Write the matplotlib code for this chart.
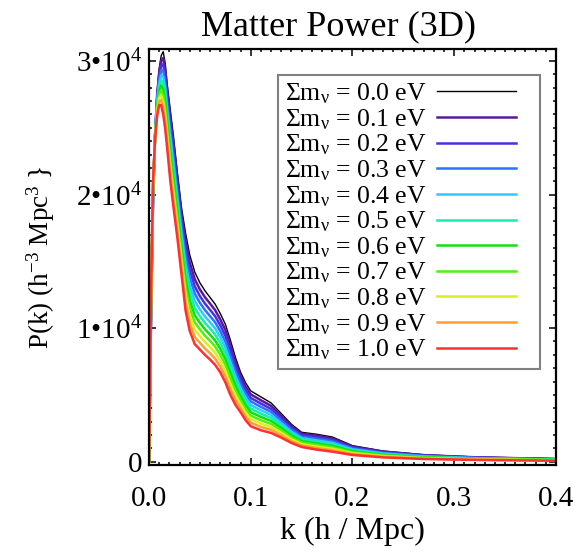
import matplotlib
matplotlib.use("Agg")
import matplotlib.pyplot as plt
from matplotlib.ticker import MultipleLocator, FixedLocator, FixedFormatter
from matplotlib.legend_handler import HandlerLine2D

plt.rcParams['font.family'] = ['Liberation Serif', 'DejaVu Serif']
plt.rcParams['mathtext.fontset'] = 'custom'
plt.rcParams['mathtext.rm'] = 'Liberation Serif'
plt.rcParams['mathtext.it'] = 'Liberation Serif:italic'
plt.rcParams['mathtext.bf'] = 'Liberation Serif:bold'

# wavenumber grid (h/Mpc)
k = [0.0, 0.001, 0.002, 0.004, 0.006, 0.008, 0.010, 0.012, 0.014, 0.016,
     0.018, 0.021, 0.024, 0.028, 0.032, 0.036, 0.040, 0.045, 0.050, 0.055,
     0.060, 0.065, 0.070, 0.075, 0.080, 0.085, 0.090, 0.095, 0.100, 0.110,
     0.120, 0.130, 0.140, 0.150, 0.165, 0.180, 0.200, 0.230, 0.270, 0.320,
     0.400]

# P(k), one list per neutrino mass
pk_00 = [0, 5000, 10500, 19500, 24500, 27600, 29400, 30400, 30700, 29800,
         28200, 26300, 24400, 21600, 19000, 17100, 15500, 14200, 13400, 12800,
         12300, 11800, 11100, 10300, 9100, 7800, 6700, 5900, 5300, 4850,
         4400, 3600, 2800, 2200, 2050, 1850, 1200, 800, 520, 350, 220]
pk_01 = [0, 5100, 10700, 19650, 24470, 27430, 29130, 30030, 30230, 29310,
         27720, 25770, 23870, 21110, 18500, 16520, 14930, 13660, 12900, 12320,
         11840, 11350, 10660, 9870, 8690, 7450, 6400, 5620, 5040, 4600,
         4180, 3420, 2660, 2090, 1940, 1740, 1130, 750, 490, 330, 200]
pk_02 = [0, 5200, 10900, 19800, 24440, 27260, 28860, 29660, 29760, 28820,
         27240, 25240, 23340, 20620, 18000, 15940, 14360, 13120, 12400, 11840,
         11370, 10890, 10220, 9430, 8280, 7090, 6100, 5340, 4770, 4350,
         3950, 3240, 2520, 1980, 1820, 1630, 1060, 700, 460, 310, 190]
pk_03 = [0, 5300, 11100, 19950, 24410, 27090, 28590, 29290, 29290, 28330,
         26760, 24710, 22810, 20130, 17500, 15360, 13790, 12580, 11900, 11360,
         10900, 10440, 9780, 9000, 7870, 6740, 5800, 5060, 4510, 4100,
         3730, 3060, 2380, 1870, 1710, 1520, 990, 660, 420, 280, 180]
pk_04 = [0, 5400, 11300, 20100, 24380, 26920, 28320, 28920, 28820, 27840,
         26280, 24180, 22280, 19640, 17000, 14780, 13220, 12040, 11400, 10880,
         10440, 9980, 9340, 8560, 7460, 6380, 5500, 4780, 4240, 3850,
         3500, 2880, 2240, 1760, 1590, 1410, 920, 610, 390, 260, 160]
pk_05 = [0, 5500, 11500, 20250, 24350, 26750, 28050, 28550, 28350, 27350,
         25800, 23650, 21750, 19150, 16500, 14200, 12650, 11500, 10900, 10400,
         9980, 9530, 8900, 8130, 7050, 6030, 5200, 4500, 3980, 3600,
         3280, 2700, 2100, 1650, 1480, 1300, 850, 560, 360, 240, 150]
pk_06 = [0, 5600, 11700, 20400, 24320, 26580, 27780, 28180, 27880, 26860,
         25320, 23120, 21220, 18660, 16000, 13620, 12080, 10960, 10400, 9920,
         9510, 9070, 8460, 7690, 6640, 5670, 4900, 4220, 3710, 3350,
         3050, 2520, 1960, 1540, 1360, 1190, 780, 510, 330, 220, 130]
pk_07 = [0, 5700, 11900, 20550, 24290, 26410, 27510, 27810, 27410, 26370,
         24840, 22590, 20690, 18170, 15500, 13040, 11510, 10420, 9900, 9440,
         9050, 8620, 8020, 7260, 6230, 5320, 4600, 3940, 3450, 3100,
         2830, 2340, 1820, 1430, 1250, 1080, 710, 460, 300, 200, 120]
pk_08 = [0, 5800, 12100, 20700, 24260, 26240, 27240, 27440, 26940, 25880,
         24360, 22060, 20160, 17680, 15000, 12460, 10940, 9880, 9400, 8960,
         8580, 8160, 7580, 6820, 5820, 4960, 4300, 3660, 3180, 2850,
         2600, 2160, 1680, 1320, 1130, 970, 640, 420, 260, 170, 100]
pk_09 = [0, 5900, 12300, 20850, 24230, 26070, 26970, 27070, 26470, 25390,
         23880, 21530, 19630, 17190, 14500, 11880, 10370, 9340, 8900, 8480,
         8120, 7710, 7140, 6390, 5410, 4610, 4000, 3380, 2920, 2600,
         2380, 1980, 1540, 1210, 1020, 860, 570, 370, 230, 150, 90]
pk_10 = [0, 6000, 12500, 21000, 24200, 25900, 26700, 26700, 26000, 24900,
         23400, 21000, 19100, 16700, 14000, 11300, 9800, 8800, 8400, 8000,
         7650, 7250, 6700, 5950, 5000, 4250, 3700, 3100, 2650, 2350,
         2150, 1800, 1400, 1100, 900, 750, 500, 320, 200, 130, 70]

masses = ['0.0', '0.1', '0.2', '0.3', '0.4', '0.5', '0.6', '0.7', '0.8', '0.9', '1.0']
spectra = [pk_00, pk_01, pk_02, pk_03, pk_04, pk_05, pk_06, pk_07, pk_08, pk_09, pk_10]
colors = ['black', '#5a1a9a', '#4a30e0', '#3070ff', '#30c8ff', '#10f0b0',
          '#10e010', '#50f010', '#d8f020', '#ffa030', '#ff3030']


class ShortLine(HandlerLine2D):
    # leave some empty room to the right of the legend line, like the IDL legend
    def create_artists(self, legend, orig_handle, xdescent, ydescent,
                       width, height, fontsize, trans):
        return super().create_artists(legend, orig_handle, xdescent, ydescent,
                                      width - 0.7 * fontsize, height, fontsize, trans)


fig = plt.figure(figsize=(5.79, 5.52), dpi=100)
ax = fig.add_axes([0.2573, 0.1576, 0.703, 0.7536])

for m, pk, c in zip(masses, spectra, colors):
    lw = 1.0 if c == 'black' else 1.8
    ax.plot(k, pk, color=c, lw=lw, solid_joinstyle='round',
            label=r'$\Sigma\mathrm{m}_{\mathrm{\nu}}$ = ' + m + ' eV')

ax.set_xlim(0, 0.4)
ax.set_ylim(-250, 30900)

ax.set_xticks([0.0, 0.1, 0.2, 0.3, 0.4])
ax.set_xticklabels(['0.0', '0.1', '0.2', '0.3', '0.4'])
ax.xaxis.set_minor_locator(MultipleLocator(0.01))
ax.yaxis.set_major_locator(FixedLocator([0, 10000, 20000, 30000]))
ax.yaxis.set_major_formatter(FixedFormatter(['0', '1•10$^4$', '2•10$^4$', '3•10$^4$']))
ax.yaxis.set_minor_locator(MultipleLocator(1000))

ax.tick_params(which='both', direction='in', top=True, right=True, width=1.1)
ax.tick_params(which='major', length=5, labelsize=21)
ax.tick_params(which='minor', length=2.5)
ax.tick_params(axis='x', pad=15)
ax.tick_params(axis='y', pad=5)
for s in ax.spines.values():
    s.set_linewidth(1.6)

ax.set_title('Matter Power (3D)', fontsize=26, pad=10, x=0.466)
ax.set_xlabel('k (h / Mpc)', fontsize=23, labelpad=4)
ax.set_ylabel('P(k) (h$^{-3}$ Mpc$^3$ }', fontsize=19.5, labelpad=14)

leg = ax.legend(loc='upper right', bbox_to_anchor=(0.961, 0.9375),
                borderaxespad=0, fontsize=18.5, markerfirst=False,
                handlelength=3.75, handletextpad=0.43, labelspacing=0.04,
                borderpad=0.25, fancybox=False, framealpha=1,
                handler_map={matplotlib.lines.Line2D: ShortLine()})
leg.get_frame().set_edgecolor('#808080')
leg.get_frame().set_linewidth(1.5)

fig.savefig('out.png', dpi=100)
